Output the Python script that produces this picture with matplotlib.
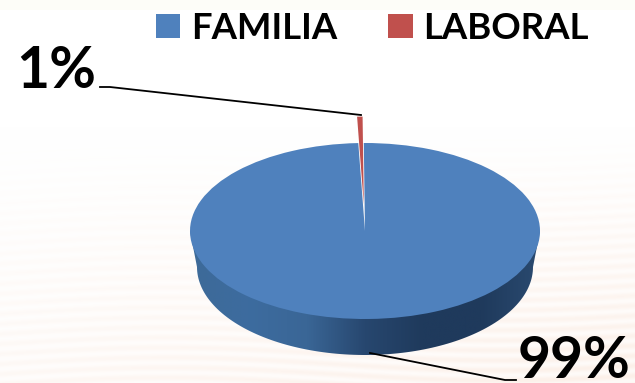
import numpy as np
import matplotlib
matplotlib.use("Agg")
import matplotlib.pyplot as plt
from matplotlib.colors import LinearSegmentedColormap
from matplotlib.path import Path
from matplotlib.patches import PathPatch

# Data
categories = ["FAMILIA", "LABORAL"]
shares = [99.5, 0.5]
share_labels = ["99%", "1%"]
colors = ["#4f81bd", "#c0504d"]
explode = [0, 0.3]

W, H = 635, 383
cx, cy, rx, ry = 365, 231, 175, 88
depth = 36
bottom_rx = 168

plt.rcParams["font.family"] = ["Lato", "DejaVu Sans"]
plt.rcParams["font.weight"] = "bold"

fig = plt.figure(figsize=(W / 100, H / 100), dpi=100)

# Background in pixel coordinates
bg = fig.add_axes([0, 0, 1, 1], zorder=0)
bg.set_xlim(0, W)
bg.set_ylim(H, 0)
bg.axis("off")
yy, xx = np.mgrid[0:1:383j, 0:1:635j]
fade = np.clip((yy - 0.33) / 0.67, 0, 1) * (0.45 + 0.55 * xx)
stripes = 1 + 0.5 * np.sin(yy * 383 / 1.6 + 4 * np.sin(xx * 6))
bg_rgb = np.dstack([1 - 0.008 * fade * stripes, 1 - 0.04 * fade * stripes, 1 - 0.06 * fade * stripes])
bg_rgb[:10] = [0.995, 0.995, 0.975]
bg.imshow(bg_rgb, extent=(0, W, H, 0), aspect="auto", interpolation="bilinear")

# Pie body: dark band below the top ellipse, its upper edge tucked under the pie
theta = np.linspace(np.pi, 2 * np.pi, 120)
verts = np.r_[np.c_[cx + rx * np.cos(theta[:1]), [cy]],
              np.c_[cx + bottom_rx * np.cos(theta), cy + depth - ry * np.sin(theta)],
              [[cx + rx, cy]],
              np.c_[cx + 150 * np.cos(theta[::-1]), cy - 60 * np.sin(theta[::-1])],
              [[cx - rx, cy]]]
side = PathPatch(Path(verts, closed=True), facecolor="none", edgecolor="none")
bg.add_patch(side)
side_cmap = LinearSegmentedColormap.from_list(
    "side", ["#3d6a98", "#3d6c9f", "#3a6696", "#27476f", "#1f3a5c", "#1f3a5c", "#2a4a70"])
grad = bg.imshow(np.linspace(0, 1, 256)[None, :], cmap=side_cmap, aspect="auto",
                 extent=(cx - rx, cx + rx, cy + ry + depth, cy))
grad.set_clip_path(side)
bg.set_xlim(0, W)
bg.set_ylim(H, 0)

# Pie, in a transparent axes where the unit circle maps to the squashed ellipse
ax = fig.add_axes([0, 0, 1, 1], zorder=1)
wedges, _ = ax.pie(shares, colors=colors, explode=explode, startangle=92.2,
                   wedgeprops={"linewidth": 0})
ax.set_aspect("auto")
ax.set_xlim(-cx / rx, (W - cx) / rx)
ax.set_ylim((cy - H) / ry, cy / ry)
ax.patch.set_alpha(0)

# Overlay: leader lines, labels, legend
top = fig.add_axes([0, 0, 1, 1], zorder=2)
top.set_xlim(0, W)
top.set_ylim(H, 0)
top.axis("off")
top.plot([100, 110, 361], [87, 87, 115], color="black", lw=1.3)
top.plot([370, 505, 516], [353, 380, 380], color="black", lw=1.3)
top.text(16, 88, share_labels[1], fontsize=41, ha="left", va="baseline", color="black")
top.text(518, 378, share_labels[0], fontsize=41, ha="left", va="baseline", color="black")

leg = top.legend(wedges, categories, ncol=2, frameon=False, fontsize=26.3,
                 loc="upper left", bbox_to_anchor=(156 / W, 1 - 12 / H),
                 handlelength=0.66, handleheight=0.66, handletextpad=0.3,
                 columnspacing=1.4, borderpad=0, borderaxespad=0)

fig.savefig("out.png", dpi=100)
